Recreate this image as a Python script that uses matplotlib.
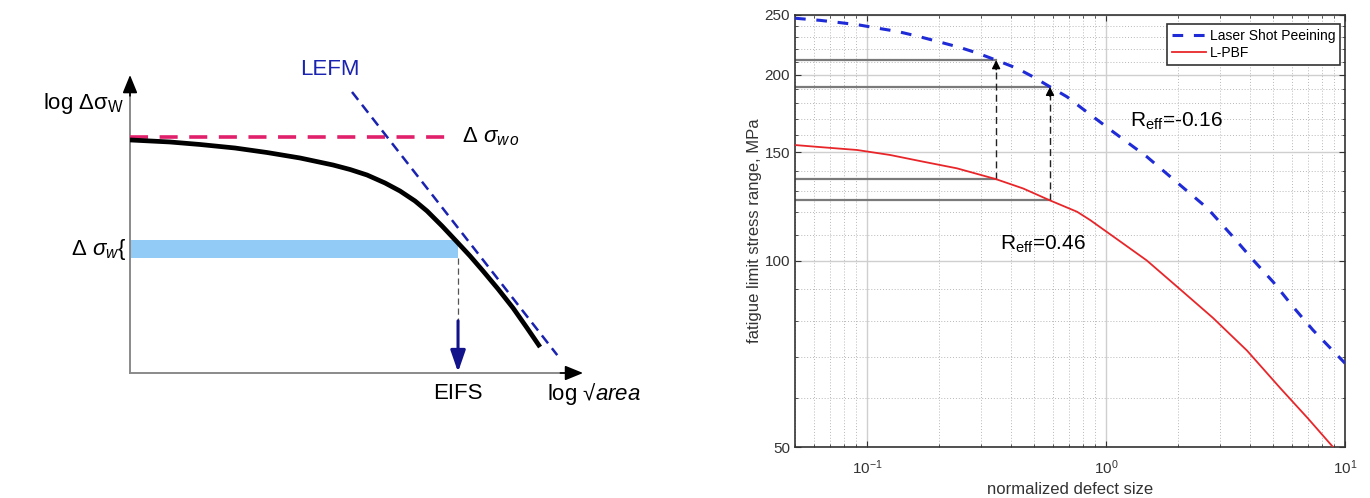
import numpy as np
import matplotlib
matplotlib.use("Agg")
import matplotlib.pyplot as plt
from matplotlib.ticker import FixedLocator, LogLocator, NullFormatter, FixedFormatter

plt.rcParams["font.family"] = ["Liberation Sans", "DejaVu Sans"]
plt.rcParams["mathtext.fontset"] = "custom"
plt.rcParams["mathtext.rm"] = "Liberation Sans"
plt.rcParams["mathtext.it"] = "Liberation Sans:italic"
plt.rcParams["mathtext.bf"] = "Liberation Sans:bold"

### Right panel: fatigue limit vs normalized defect size
LSP_X = [0.05, 0.064, 0.077, 0.092, 0.111, 0.135, 0.163, 0.202, 0.245, 0.291, 0.347,
         0.425, 0.495, 0.583, 0.687, 0.778, 1.07, 1.48, 2.04, 2.65, 3.40, 4.12, 5.0,
         6.06, 7.34, 10.0]
LSP_Y = [247, 245, 243, 241, 238, 235, 231, 226, 221.5, 216.8, 211.3,
         204.9, 198.6, 191.3, 184.3, 177.6, 161.8, 147.5, 132.7, 121.8, 109.4, 100.4, 92.5,
         84.3, 77.3, 68.3]

LPBF_X = [0.05, 0.0655, 0.0908, 0.125, 0.171, 0.238, 0.347, 0.45, 0.583, 0.757, 0.857,
          1.07, 1.48, 2.04, 2.80, 3.89, 5.35, 7.0, 8.9]
LPBF_Y = [154, 152.7, 151.2, 148.4, 144.8, 141.2, 135.6, 131.0, 125.3, 120.1, 116.5,
          109.6, 100.2, 90.0, 80.9, 71.6, 62.3, 55.6, 50]

# Defect sizes where the two curves are compared
MARK_X = [0.347, 0.583]
MARK_UPPER = [211.3, 191.3]
MARK_LOWER = [135.6, 125.3]

Y_TICKS = [50, 100, 150, 200, 250]
Y_MINOR = [60, 70, 80, 90, 110, 120, 130, 140, 160, 170, 180, 190, 210, 220, 230, 240]
X_TICKS = [0.1, 1, 10]
X_TICK_LABELS = ["$10^{-1}$", "$10^{0}$", "$10^{1}$"]

### Left panel: schematic Kitagawa diagram in axis fractions
CURVE_X = [0.0, 0.0883, 0.1545, 0.2318, 0.3024, 0.3753, 0.4481, 0.4857, 0.5232, 0.5629,
           0.5960, 0.6291, 0.6556, 0.6887, 0.7219, 0.7506, 0.7792, 0.8124, 0.8455, 0.8764,
           0.9051]
CURVE_Y = [0.782, 0.7752, 0.7668, 0.7550, 0.7399, 0.7215, 0.6980, 0.6829, 0.6644, 0.6376,
           0.6107, 0.5772, 0.5436, 0.4933, 0.4396, 0.3926, 0.3423, 0.2819, 0.2181, 0.1510,
           0.0872]
LEFM_X = [0.490, 0.943]
LEFM_Y = [0.943, 0.060]
SIGMA_W0 = 0.792
SIGMA_W0_END = 0.695
BAND_LOW, BAND_HIGH = 0.386, 0.446
EIFS = 0.724


def draw_schematic(fig):
    ax = fig.add_axes([0.0949, 0.251, 0.3307, 0.5984])
    ax.set_xlim(0, 1)
    ax.set_ylim(0, 1)
    ax.axis("off")

    # Axes with arrow heads
    ax.plot([0, 0.97], [0, 0], color="#8a8a8a", lw=1.4, clip_on=False)
    ax.plot([0, 0], [0, 0.95], color="#8a8a8a", lw=1.4, clip_on=False)
    head = dict(arrowstyle="-|>,head_length=1.1,head_width=0.45", color="black", lw=1.2,
                shrinkA=0, shrinkB=0)
    ax.annotate("", xy=(1.0, 0), xytext=(0.95, 0), arrowprops=head, annotation_clip=False)
    ax.annotate("", xy=(0, 1.0), xytext=(0, 0.93), arrowprops=head, annotation_clip=False)

    # Fatigue limit band
    ax.fill_between([0, EIFS], BAND_LOW, BAND_HIGH, color="#92cbf5", lw=0)

    # Smooth-specimen limit and LEFM asymptote
    ax.plot([0, SIGMA_W0_END], [SIGMA_W0, SIGMA_W0], color="#e0206a", lw=2.6,
            dashes=(5, 3.2))
    ax.plot(LEFM_X, LEFM_Y, color="#1a22b0", lw=1.8, dashes=(4, 2.5), clip_on=False)

    ax.plot(CURVE_X, CURVE_Y, color="black", lw=3.4, solid_capstyle="butt",
            solid_joinstyle="round")

    # EIFS marker
    ax.plot([EIFS, EIFS], [BAND_LOW, 0.17], color="#555555", lw=0.9, dashes=(5, 3))
    ax.annotate("", xy=(EIFS, 0.003), xytext=(EIFS, 0.175),
                arrowprops=dict(arrowstyle="-|>,head_length=1.3,head_width=0.45",
                                color="#12128a", lw=2.2, shrinkA=0, shrinkB=0))

    fs = 16
    ax.text(-0.012, 0.906, r"log $\Delta\mathrm{\sigma}_{\mathrm{W}}$", fontsize=fs,
            ha="right", va="center")
    ax.text(-0.008, 0.416, r"$\Delta\ \sigma_{w}\{$", fontsize=fs, ha="right", va="center")
    ax.text(0.733, SIGMA_W0, r"$\Delta\ \sigma_{w\,o}$", fontsize=fs, ha="left",
            va="center")
    ax.text(0.442, 1.02, "LEFM", fontsize=fs, color="#1a22b0", ha="center", va="center")
    ax.text(EIFS, -0.07, "EIFS", fontsize=fs, ha="center", va="center")
    ax.text(0.921, -0.07, r"log √$area$", fontsize=fs, ha="left", va="center")


def draw_curves(fig):
    ax = fig.add_axes([0.5803, 0.1024, 0.4015, 0.8675])
    ax.set_xscale("log")
    ax.set_yscale("log")
    ax.set_xlim(0.05, 10)
    ax.set_ylim(50, 250)

    # MATLAB-like grid
    ax.grid(True, which="major", color="#cfcfcf", lw=1.0, ls="-")
    ax.grid(True, which="minor", color="#b8b8b8", lw=0.7, ls=(0, (1, 2)))
    ax.set_axisbelow(True)

    ax.yaxis.set_major_locator(FixedLocator(Y_TICKS))
    ax.yaxis.set_major_formatter(FixedFormatter([str(v) for v in Y_TICKS]))
    ax.yaxis.set_minor_locator(FixedLocator(Y_MINOR))
    ax.yaxis.set_minor_formatter(NullFormatter())
    ax.xaxis.set_major_locator(FixedLocator(X_TICKS))
    ax.xaxis.set_major_formatter(FixedFormatter(X_TICK_LABELS))
    ax.xaxis.set_minor_locator(LogLocator(base=10, subs=np.arange(2, 10)))
    ax.xaxis.set_minor_formatter(NullFormatter())

    ax.tick_params(which="both", direction="in", top=True, right=True, colors="#333333",
                   labelsize=11)
    ax.tick_params(which="major", length=4)
    ax.tick_params(which="minor", length=2)
    ax.tick_params(axis="x", pad=8)
    for spine in ax.spines.values():
        spine.set_color("#333333")
        spine.set_linewidth(1.2)

    # Reference lines from the axis to the compared points
    for x, up, low in zip(MARK_X, MARK_UPPER, MARK_LOWER):
        for y in (up, low):
            ax.plot([0.05, x], [y, y], color="#7a7a7a", lw=1.6, zorder=2)
        ax.plot([x, x], [low, up * 0.975], color="#222222", lw=1.0, dashes=(5, 3), zorder=3)
        ax.annotate("", xy=(x, up), xytext=(x, up * 0.965),
                    arrowprops=dict(arrowstyle="-|>,head_length=0.5,head_width=0.25",
                                    color="black", lw=1, shrinkA=0, shrinkB=0), zorder=4)

    ax.plot(LSP_X, LSP_Y, color="#1f2bd6", lw=2.2, dashes=(3.5, 3.5),
            label="Laser Shot Peeining", zorder=5)
    ax.plot(LPBF_X, LPBF_Y, color="#e8262a", lw=1.3, label="L-PBF", zorder=5,
            solid_joinstyle="round")

    ax.text(1.26, 164.8, r"R$_{\mathrm{eff}}$=-0.16", fontsize=15, va="baseline")
    ax.text(0.36, 104.3, r"R$_{\mathrm{eff}}$=0.46", fontsize=15, va="baseline")

    leg = ax.legend(loc="upper right", bbox_to_anchor=(0.991, 0.979), borderaxespad=0,
                    fontsize=10, handlelength=2.4, handletextpad=0.3, borderpad=0.35,
                    labelspacing=0.2, fancybox=False, framealpha=1, edgecolor="#333333")
    leg.get_frame().set_linewidth(1.2)

    ax.set_xlabel("normalized defect size", fontsize=12, color="#333333", labelpad=4)
    ax.set_ylabel("fatigue limit stress range, MPa", fontsize=12, color="#333333")
    ax.yaxis.set_label_coords(-0.06, 0.5)


if __name__ == "__main__":
    fig = plt.figure(figsize=(13.7, 4.98), dpi=100)
    draw_schematic(fig)
    draw_curves(fig)
    fig.savefig("out.png", dpi=100)
